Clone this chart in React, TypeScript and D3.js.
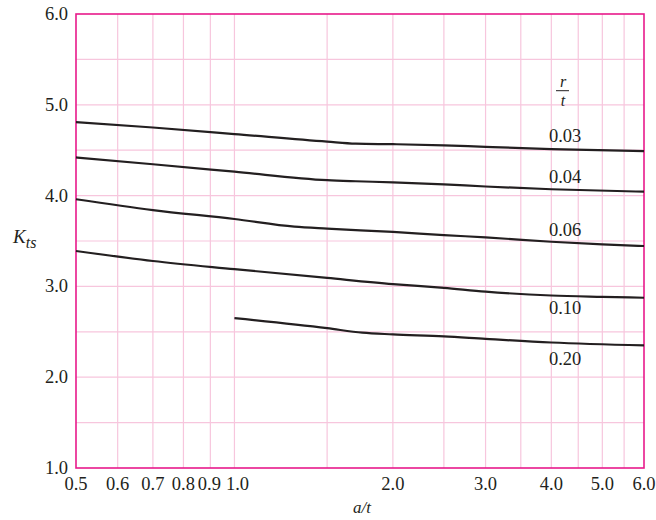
import React from "react";
import * as d3 from "d3";

const xTickValues = [0.5, 0.6, 0.7, 0.8, 0.9, 1.0, 2.0, 3.0, 4.0, 5.0, 6.0];
const xGridValues = [0.6, 0.7, 0.8, 0.9, 1.0, 1.5, 2.0, 2.5, 3.0, 3.5, 4.0, 4.5, 5.0, 5.5];
const yTickValues = [1.0, 2.0, 3.0, 4.0, 5.0, 6.0];
const yGridValues = [1.5, 2.0, 2.5, 3.0, 3.5, 4.0, 4.5, 5.0, 5.5];

const seriesLabels = ["0.03", "0.04", "0.06", "0.10", "0.20"];
const s003: [number, number][] = [[0.5, 4.81], [0.7, 4.75], [1.0, 4.678], [1.5, 4.594], [1.7, 4.572], [2.0, 4.566], [2.5, 4.554], [3.0, 4.537], [4.0, 4.512], [6.0, 4.49]];
const s004: [number, number][] = [[0.5, 4.42], [0.7, 4.345], [1.0, 4.263], [1.5, 4.17], [1.7, 4.158], [2.0, 4.146], [2.5, 4.124], [3.0, 4.1], [4.0, 4.07], [6.0, 4.043]];
const s006: [number, number][] = [[0.5, 3.96], [0.7, 3.84], [1.0, 3.742], [1.3, 3.658], [1.5, 3.636], [2.0, 3.6], [2.5, 3.565], [3.0, 3.54], [4.0, 3.492], [5.0, 3.462], [6.0, 3.445]];
const s010: [number, number][] = [[0.5, 3.39], [0.7, 3.28], [1.0, 3.19], [1.5, 3.093], [2.0, 3.026], [2.5, 2.984], [3.0, 2.942], [4.0, 2.9], [5.0, 2.885], [6.0, 2.875]];
const s020: [number, number][] = [[1.0, 2.65], [1.5, 2.54], [1.75, 2.49], [2.0, 2.472], [2.5, 2.45], [3.0, 2.422], [4.0, 2.382], [6.0, 2.35]];
const seriesData = [s003, s004, s006, s010, s020];
// label anchor positions (a/t, K) for curve labels
const labelX = [4.25, 4.25, 4.25, 4.25, 4.25];
const labelY = [4.594, 4.139, 3.555, 2.696, 2.134];

const W = 656;
const H = 520;
const left = 76, right = 644, top = 14, bottom = 468;
const FRAME = "#e8198b";
const GRID = "#f7c6dd";
const INK = "#231f20";
const FONT = "Liberation Serif, serif";
const FS = 18.5;

export default function App() {
  const x = d3.scaleLog().domain([0.5, 6.0]).range([left, right]);
  const y = d3.scaleLinear().domain([1.0, 6.0]).range([bottom, top]);
  const line = d3
    .line<[number, number]>()
    .x((d) => x(d[0]))
    .y((d) => y(d[1]))
    .curve(d3.curveMonotoneX);

  return (
    <svg width={W} height={H} style={{ position: "absolute", left: 0, top: 0, background: "#fff" }}>
      <rect x={0} y={0} width={W} height={H} fill="#fff" />
      {xGridValues.map((v) => (
        <line key={"gx" + v} x1={x(v)} x2={x(v)} y1={top} y2={bottom} stroke={GRID} strokeWidth={1.2} />
      ))}
      {yGridValues.map((v) => (
        <line key={"gy" + v} x1={left} x2={right} y1={y(v)} y2={y(v)} stroke={GRID} strokeWidth={1.2} />
      ))}
      <rect x={left} y={top} width={right - left} height={bottom - top} fill="none" stroke={FRAME} strokeWidth={1.6} />
      {seriesData.map((s, i) => (
        <path key={"s" + i} d={line(s) || ""} fill="none" stroke={INK} strokeWidth={2.2} />
      ))}
      {seriesLabels.map((l, i) => (
        <text key={"l" + i} x={x(labelX[i])} y={y(labelY[i])} textAnchor="middle" fontFamily={FONT} fontSize={FS} fill={INK}>
          {l}
        </text>
      ))}
      {yTickValues.map((v) => (
        <text key={"yt" + v} x={68} y={y(v) + 6} textAnchor="end" fontFamily={FONT} fontSize={FS} fill={INK}>
          {v.toFixed(1)}
        </text>
      ))}
      {xTickValues.map((v) => (
        <text key={"xt" + v} x={x(v) + (v === 0.9 ? -1 : v === 1.0 ? 3 : 0)} y={490} textAnchor="middle" fontFamily={FONT} fontSize={FS} fill={INK}>
          {v.toFixed(1)}
        </text>
      ))}
      <text x={362} y={513} textAnchor="middle" fontFamily={FONT} fontSize={17} fontStyle="italic" fill={INK}>
        a/t
      </text>
      <text x={13} y={243} fontFamily={FONT} fontSize={19} fontStyle="italic" fill={INK}>
        K
        <tspan fontSize={16} dy={5}>ts</tspan>
      </text>
      <text x={563} y={86.5} textAnchor="middle" fontFamily={FONT} fontSize={16} fontStyle="italic" fill={INK}>
        r
      </text>
      <line x1={556} x2={569} y1={90.7} y2={90.7} stroke={INK} strokeWidth={1} />
      <text x={563} y={106} textAnchor="middle" fontFamily={FONT} fontSize={16} fontStyle="italic" fill={INK}>
        t
      </text>
    </svg>
  );
}
